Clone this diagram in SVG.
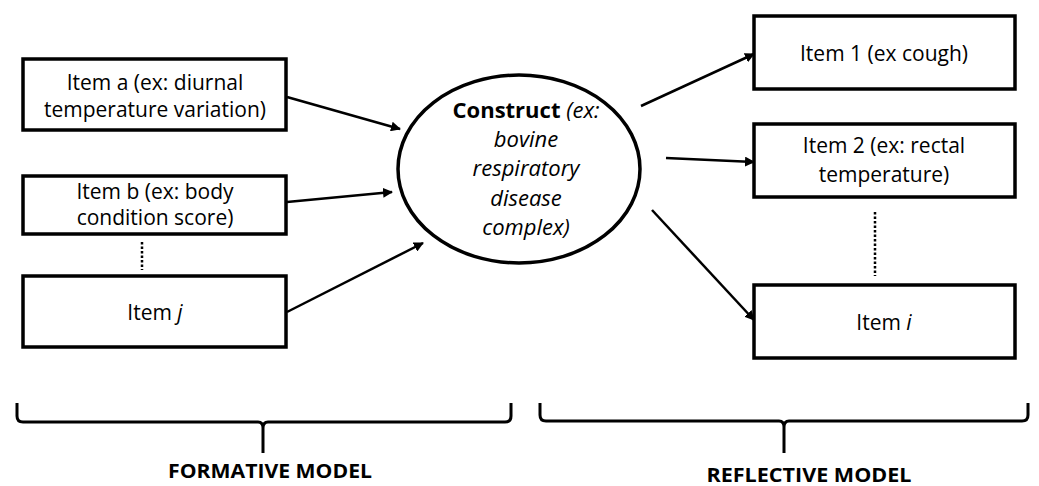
<svg xmlns="http://www.w3.org/2000/svg" width="1039" height="486" viewBox="0 0 1039 486">
<style>
.box{fill:#fff;stroke:#000;stroke-width:3.5}
.t{font-family:"Open Sans",sans-serif;font-size:21px;fill:#000;text-anchor:middle}
.c{font-size:22px}
.lbl{font-family:"Open Sans",sans-serif;font-size:19px;font-weight:bold;fill:#000;text-anchor:middle}
.arr{stroke:#000;stroke-width:2.5;fill:none;marker-end:url(#ah)}
.dot{stroke:#000;stroke-width:2.5;stroke-dasharray:2.5 2}
.brace{stroke:#000;stroke-width:3;fill:none;stroke-linejoin:round}
</style>
<defs>
<marker id="ah" markerWidth="10" markerHeight="10" refX="9" refY="5" orient="auto" markerUnits="userSpaceOnUse">
<path d="M0,0 L10,5 L0,10 Z" fill="#000"/>
</marker>
</defs>
<rect width="1039" height="486" fill="#fff"/>
<g id="connectors">
<line class="arr" x1="287" y1="97" x2="400" y2="129"/>
<line class="arr" x1="287" y1="202" x2="392" y2="192"/>
<line class="arr" x1="287" y1="312" x2="423" y2="243"/>
<line class="arr" x1="641" y1="106" x2="754" y2="54"/>
<line class="arr" x1="666" y1="158" x2="754" y2="162"/>
<line class="arr" x1="652" y1="210" x2="754" y2="320"/>
<line class="dot" x1="142" y1="242" x2="142" y2="270"/>
<line class="dot" x1="875" y1="212" x2="875" y2="276"/>
</g>
<g id="item-a">
<rect class="box" x="23" y="59" width="263" height="71"/>
<text class="t" x="155" y="90">Item a (ex: diurnal</text>
<text class="t" x="155" y="117">temperature variation)</text>
</g>
<g id="item-b">
<rect class="box" x="23" y="176" width="263" height="58"/>
<text class="t" x="155" y="199">Item b (ex: body</text>
<text class="t" x="155" y="225">condition score)</text>
</g>
<g id="item-j">
<rect class="box" x="23" y="276" width="263" height="71"/>
<text class="t" x="155" y="320">Item <tspan font-style="italic">j</tspan></text>
</g>
<g id="construct">
<ellipse cx="519" cy="169" rx="121" ry="94" fill="#fff" stroke="#000" stroke-width="3.5"/>
<text class="t c" x="526" y="118"><tspan font-weight="bold">Construct</tspan> <tspan font-style="italic">(ex:</tspan></text>
<text class="t c" x="526" y="147" font-style="italic">bovine</text>
<text class="t c" x="526" y="176" font-style="italic">respiratory</text>
<text class="t c" x="526" y="206" font-style="italic">disease</text>
<text class="t c" x="526" y="235" font-style="italic">complex)</text>
</g>
<g id="item-1">
<rect class="box" x="754" y="16" width="261" height="73"/>
<text class="t" x="884" y="61">Item 1 (ex cough)</text>
</g>
<g id="item-2">
<rect class="box" x="754" y="124" width="261" height="73"/>
<text class="t" x="884" y="153">Item 2 (ex: rectal</text>
<text class="t" x="884" y="182">temperature)</text>
</g>
<g id="item-i">
<rect class="box" x="754" y="285" width="261" height="73"/>
<text class="t" x="884" y="330">Item <tspan font-style="italic">i</tspan></text>
</g>
<g id="formative">
<path class="brace" d="M17,403 L17,416 Q17,422 23,422 L258,422 Q263,422 263,428 L263,453 M263,428 Q263,422 268,422 L505,422 Q511,422 511,416 L511,403"/>
<text class="lbl" x="270" y="478" textLength="204" lengthAdjust="spacingAndGlyphs">FORMATIVE MODEL</text>
</g>
<g id="reflective">
<path class="brace" d="M540,403 L540,415 Q540,421 546,421 L779,421 Q784,421 784,427 L784,453 M784,427 Q784,421 789,421 L1022,421 Q1028,421 1028,415 L1028,403"/>
<text class="lbl" x="809" y="482" textLength="205" lengthAdjust="spacingAndGlyphs">REFLECTIVE MODEL</text>
</g>
</svg>
